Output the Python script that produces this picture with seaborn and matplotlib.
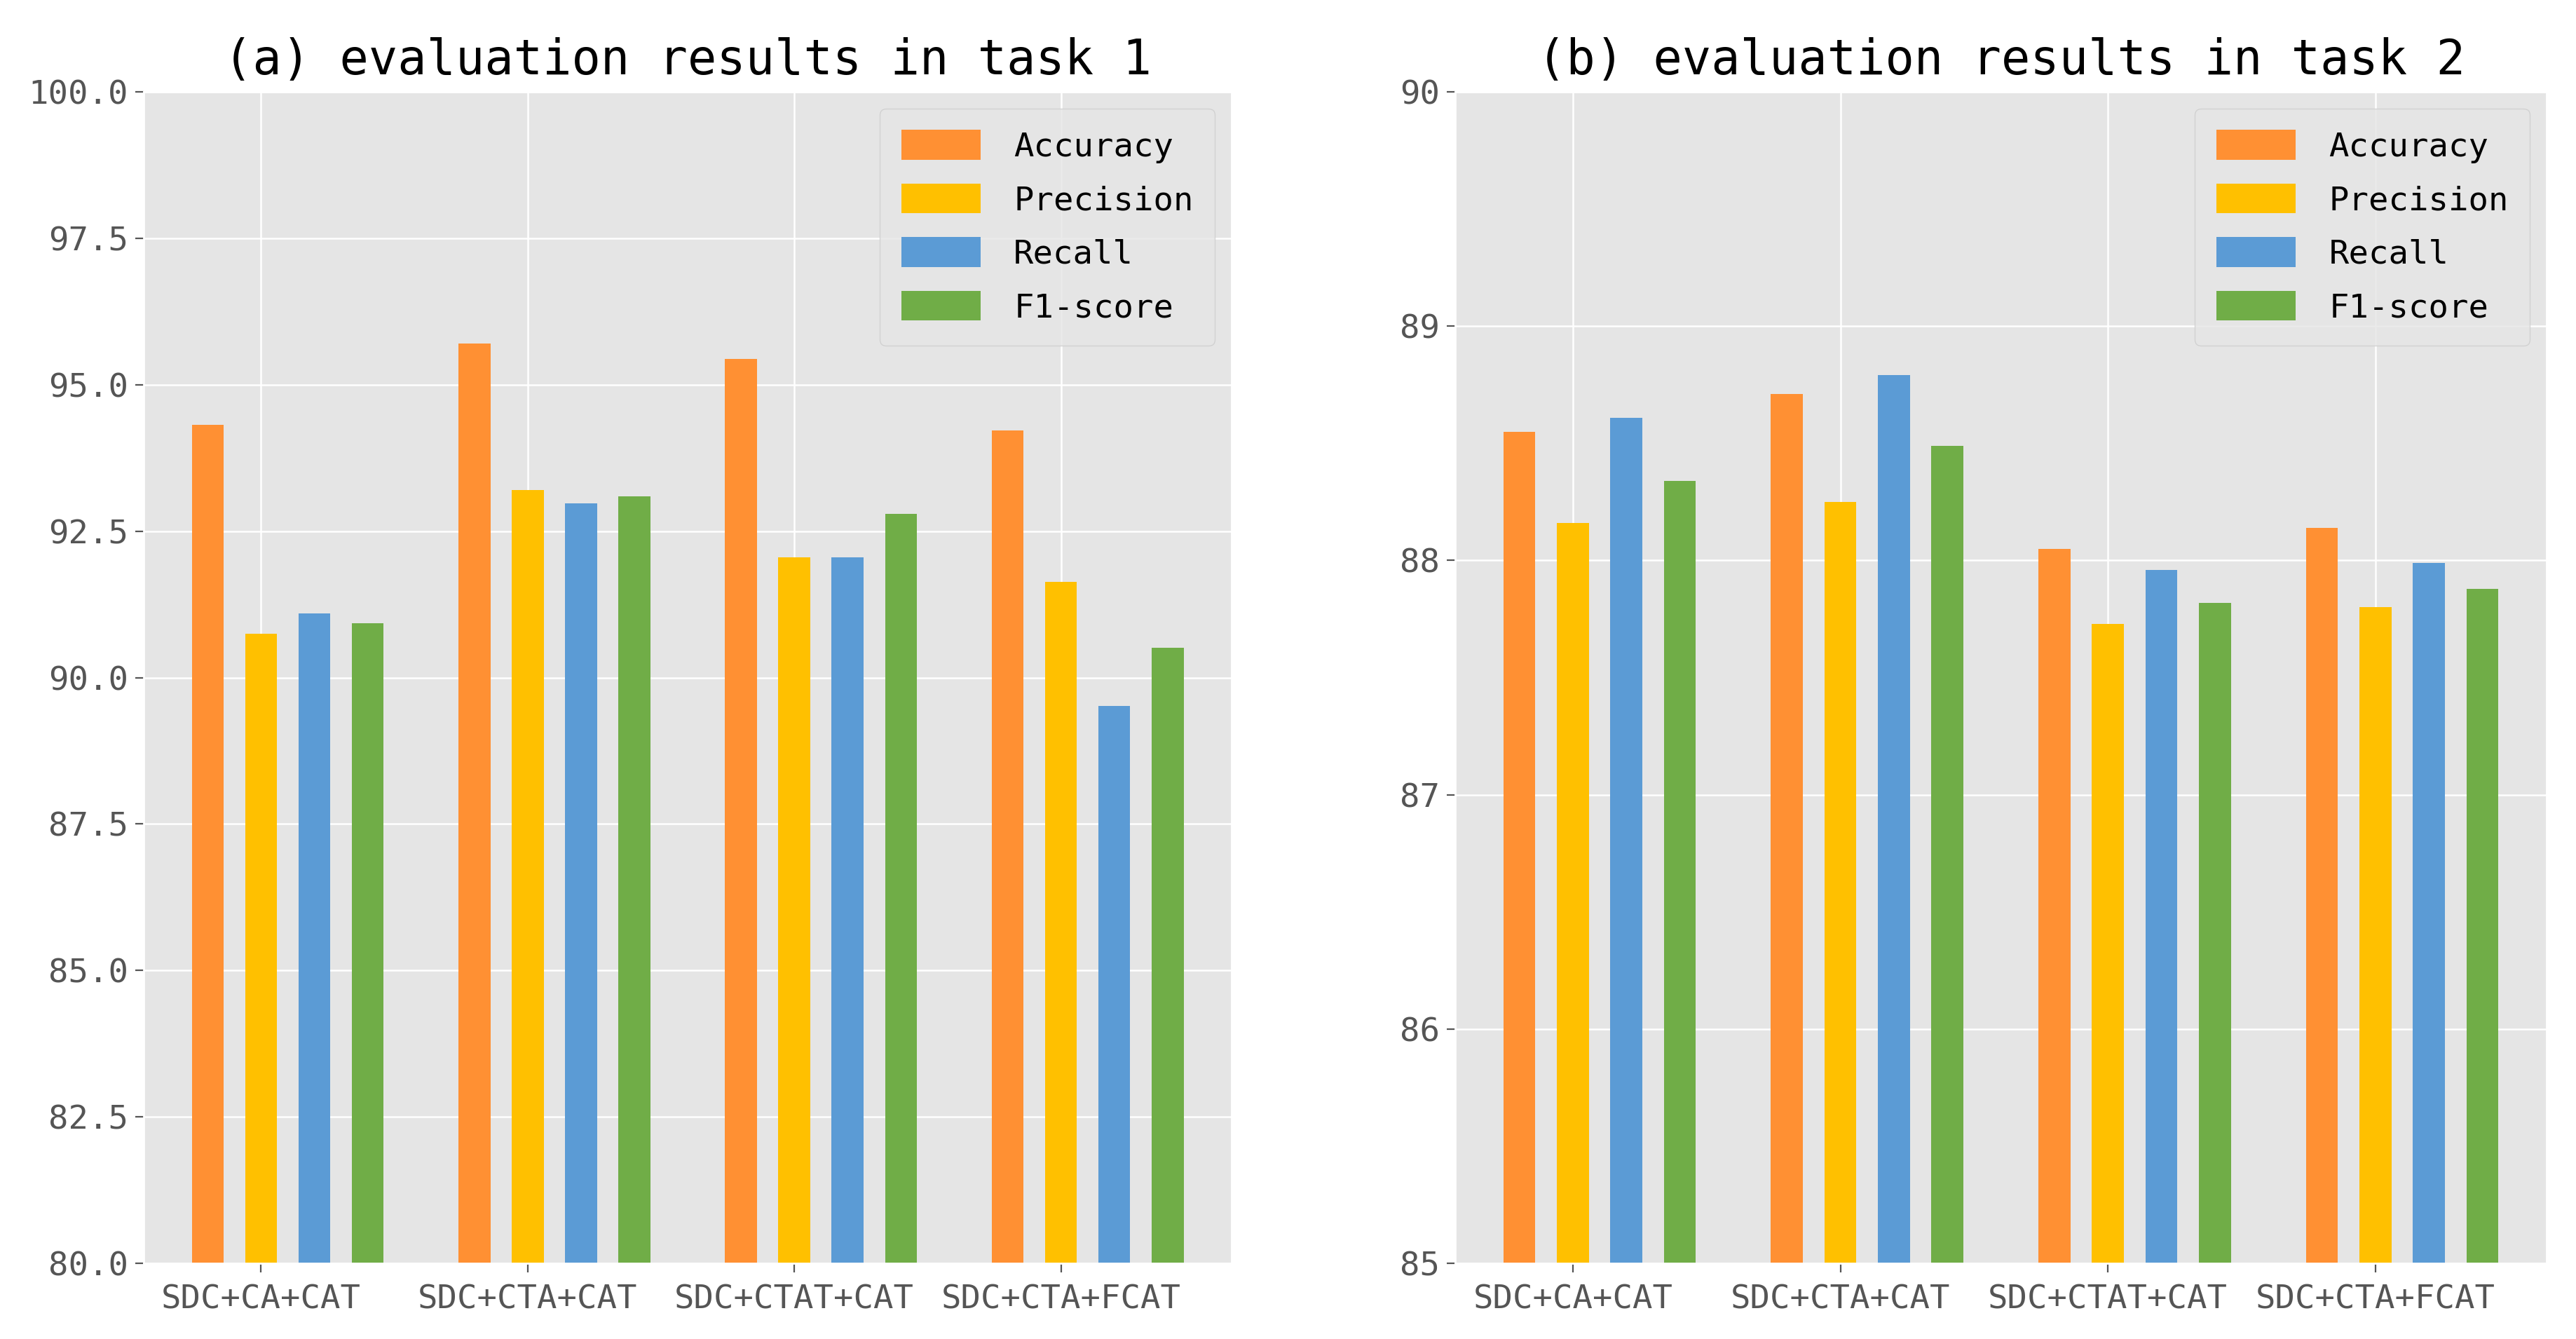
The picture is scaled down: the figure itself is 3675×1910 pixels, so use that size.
import pandas as pd
import seaborn as sns
import matplotlib.pyplot as plt

# Data

models = ['SDC+CA+CAT', 'SDC+CTA+CAT', 'SDC+CTAT+CAT', 'SDC+CTA+FCAT']
metrics = ['Accuracy', 'Precision', 'Recall', 'F1-score']

# task 1
task1_accuracy = [94.32, 95.70, 95.44, 94.22]
task1_precision = [90.75, 93.20, 92.05, 91.63]
task1_recall = [91.09, 92.97, 92.05, 89.52]
task1_f1 = [90.93, 93.10, 92.80, 90.51]

# task 2
task2_accuracy = [88.55, 88.71, 88.05, 88.14]
task2_precision = [88.16, 88.25, 87.73, 87.80]
task2_recall = [88.61, 88.79, 87.96, 87.99]
task2_f1 = [88.34, 88.49, 87.82, 87.88]

colors = ['#FF9033', '#FFC000', '#5B9BD5', '#70AD47']


def to_long(acc, prec, rec, f1):
    rows = []
    for metric, vals in zip(metrics, [acc, prec, rec, f1]):
        for model, v in zip(models, vals):
            rows.append({'Model': model, 'Metric': metric, 'Score': v})
    return pd.DataFrame(rows)


df1 = to_long(task1_accuracy, task1_precision, task1_recall, task1_f1)
df2 = to_long(task2_accuracy, task2_precision, task2_recall, task2_f1)

plt.style.use('ggplot')
plt.rcParams['font.family'] = 'DejaVu Sans Mono'

fig = plt.figure(figsize=(18.375, 9.55), dpi=200)
ax1 = fig.add_axes([0.0558, 0.0565, 0.4223, 0.8749])
ax2 = fig.add_axes([0.5649, 0.0565, 0.4237, 0.8749])

panels = [
    (ax1, df1, '(a) evaluation results in task 1', (80, 100), [80 + 2.5 * i for i in range(9)], '{:.1f}'),
    (ax2, df2, '(b) evaluation results in task 2', (85, 90), [85, 86, 87, 88, 89, 90], '{:.0f}'),
]

for ax, df, title, ylim, yticks, fmt in panels:
    sns.barplot(data=df, x='Model', y='Score', hue='Metric', hue_order=metrics,
                order=models, palette=colors, width=0.8, gap=0.4,
                saturation=1, errorbar=None, ax=ax)
    ax.set_ylim(*ylim)
    ax.set_yticks(yticks)
    ax.set_yticklabels([fmt.format(t) for t in yticks])
    # the original chart puts each tick under the second bar of a group
    ax.set_xticks([i - 0.1 for i in range(len(models))])
    ax.set_xticklabels(models)
    ax.set_xlim(-0.54, 3.54)
    ax.set_xlabel('')
    ax.set_ylabel('')
    ax.set_title(title, fontsize=24.7, color='black', pad=9)
    ax.tick_params(axis='both', labelsize=17, colors='#555555', length=4.5)
    ax.tick_params(axis='x', pad=6)
    ax.grid(True, color='white', linewidth=0.9)
    ax.set_axisbelow(True)

    old = ax.get_legend()
    handles = old.legend_handles
    labels = [t.get_text() for t in old.get_texts()]
    old.remove()
    ax.legend(handles, labels, loc='upper right', fontsize=17,
              handlelength=2.4, handleheight=1.0, handletextpad=1.0,
              labelspacing=0.62, borderpad=0.65, framealpha=0.8,
              edgecolor='#cccccc')

fig.savefig('out.png', dpi=200)
